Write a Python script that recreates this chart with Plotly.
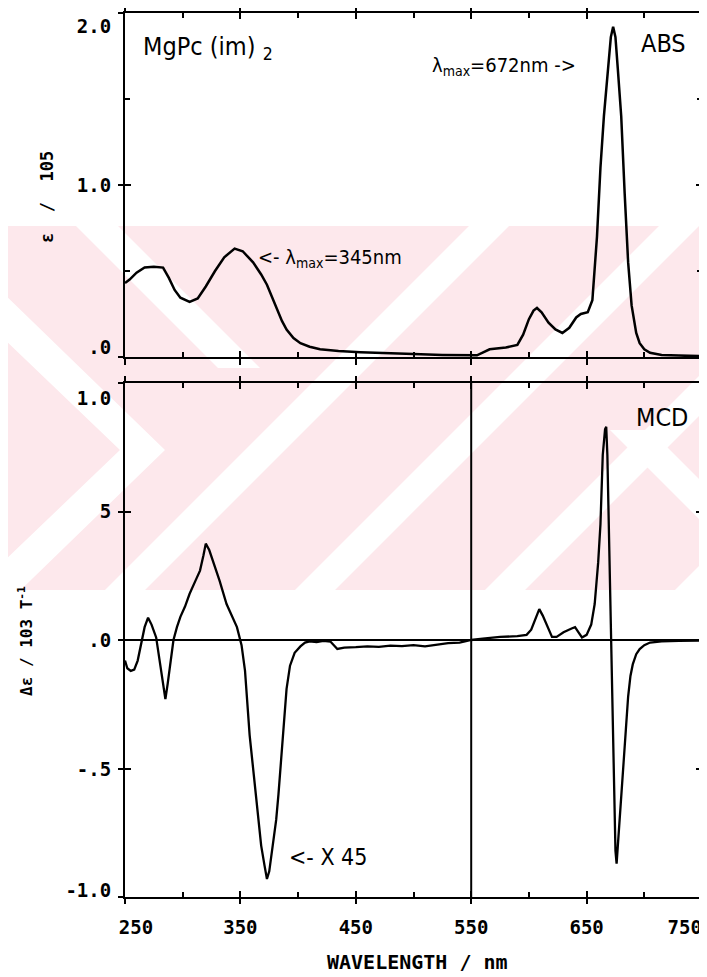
import plotly.graph_objects as go

# ---------------- data ----------------
abs_nm = [250, 254, 260, 267, 275, 283, 288, 293, 298, 306, 313, 320, 328, 336, 345, 352, 361, 368,
          373, 378, 382, 386, 390, 396, 402, 410, 419, 435, 454, 475, 500, 525, 545, 555, 566, 580,
          590, 595, 600, 604, 607, 611, 617, 623, 629, 635, 641, 645, 651, 655, 659, 662, 665, 668,
          671, 673, 675, 677, 680, 683, 686, 689, 693, 696, 700, 705, 715, 730, 750]
abs_val = [0.43, 0.45, 0.49, 0.52, 0.525, 0.52, 0.46, 0.39, 0.345, 0.32, 0.34, 0.41, 0.50, 0.58, 0.63,
           0.615, 0.55, 0.48, 0.42, 0.34, 0.27, 0.21, 0.16, 0.11, 0.08, 0.06, 0.045, 0.035, 0.028,
           0.022, 0.017, 0.012, 0.008, 0.01, 0.045, 0.055, 0.07, 0.13, 0.22, 0.27, 0.285, 0.26, 0.20,
           0.16, 0.14, 0.17, 0.23, 0.25, 0.26, 0.33, 0.70, 1.10, 1.40, 1.62, 1.86, 1.92, 1.86, 1.68,
           1.40, 0.95, 0.55, 0.30, 0.14, 0.08, 0.045, 0.025, 0.012, 0.008, 0.005]

mcd_nm = [250, 252, 255, 258, 261, 264, 267, 270, 273, 277, 280, 283, 285, 287, 290, 292, 295, 298,
          302, 306, 311, 315, 318, 320, 323, 327, 332, 338, 343, 347, 351, 354, 358, 362, 365, 368,
          371, 373, 375, 378, 381, 383, 386, 388, 390, 393, 397, 402, 406, 410, 416, 422, 428, 434,
          440, 450, 460, 470, 480, 490, 500, 510, 520, 530, 540, 545, 550, 560, 575, 590, 598, 602,
          606, 609, 612, 616, 620, 624, 630, 637, 640, 643, 646, 650, 654, 657, 660, 662, 664, 666,
          667, 668, 669, 670, 671, 672, 673, 674, 675, 676, 677, 679, 681, 684, 686, 688, 690, 693,
          696, 700, 705, 715, 730, 750]
mcd_val = [-0.08, -0.11, -0.12, -0.115, -0.08, -0.02, 0.05, 0.087, 0.06, 0.01, -0.08, -0.18, -0.23,
           -0.17, -0.06, 0.0, 0.05, 0.09, 0.13, 0.18, 0.23, 0.27, 0.33, 0.375, 0.35, 0.30, 0.23, 0.14,
           0.09, 0.05, -0.02, -0.12, -0.37, -0.55, -0.68, -0.80, -0.88, -0.93, -0.90, -0.80, -0.70,
           -0.60, -0.41, -0.29, -0.19, -0.10, -0.05, -0.025, -0.01, -0.005, -0.008, -0.003, -0.006,
           -0.035, -0.03, -0.028, -0.025, -0.027, -0.022, -0.024, -0.02, -0.025, -0.018, -0.012, -0.01,
           -0.004, 0.0, 0.005, 0.012, 0.015, 0.02, 0.04, 0.09, 0.12, 0.095, 0.05, 0.012, 0.012, 0.03,
           0.045, 0.05, 0.03, 0.01, 0.02, 0.06, 0.14, 0.30, 0.45, 0.72, 0.82, 0.83, 0.72, 0.50, 0.20,
           0.05, -0.10, -0.40, -0.65, -0.82, -0.87, -0.80, -0.68, -0.52, -0.35, -0.22, -0.14, -0.095,
           -0.055, -0.035, -0.02, -0.01, -0.005, -0.003, -0.002]

x_major = [250, 350, 450, 550, 650, 750]
x_labels = ["250", "350", "450", "550", "650", "750"]
x_label_pos = [259.5, 350, 450, 550, 650, 735]

abs_major = [0, 1, 2]
abs_minor = [0.5, 1.5]
abs_labels = [".0", "1.0", "2.0"]
abs_label_pos = [0.058, 1.0, 1.92]

mcd_major = [-1, -0.5, 0, 0.5, 1]
mcd_labels = ["-1.0", "-.5", ".0", "5", "1.0"]
mcd_label_pos = [-0.975, -0.505, 0, 0.5, 0.94]

# ---------------- geometry helpers ----------------
# The page body has an 8px margin, so the figure is drawn at (8, 8) in the window.
OFF = 8
W, H = 707 - OFF, 977 - OFF
def px(x):
    return (x - OFF) / W
def py(y):
    return 1 - (y - OFF) / H

XD = [px(125), px(702)]
YD_TOP = [py(357), py(13)]
YD_BOT = [py(897), py(383)]

TICKFONT = dict(family="DejaVu Sans Mono", size=19, color="black", weight="bold")
LBLFONT = "DejaVu Sans Condensed, Liberation Sans Narrow, DejaVu Sans"

fig = go.Figure()

# main curves
fig.add_trace(go.Scatter(x=abs_nm, y=abs_val, xaxis="x2", yaxis="y2", mode="lines",
                         line=dict(color="black", width=2.5), showlegend=False, hoverinfo="skip"))
fig.add_trace(go.Scatter(x=mcd_nm, y=mcd_val, xaxis="x", yaxis="y", mode="lines",
                         line=dict(color="black", width=2.3), showlegend=False, hoverinfo="skip"))

# dummy traces so overlay tick axes render
for xa, ya in [("x3", "y"), ("x5", "y"), ("x", "y3"), ("x", "y5"),
               ("x4", "y2"), ("x2", "y4"), ("x2", "y6")]:
    fig.add_trace(go.Scatter(x=[None], y=[None], xaxis=xa, yaxis=ya, mode="lines",
                             showlegend=False, hoverinfo="skip"))

common = dict(showgrid=False, zeroline=False, linecolor="black", linewidth=2,
              tickcolor="black", tickwidth=2, fixedrange=True)
MINOR_X = dict(ticks="inside", tick0=250, dtick=50, ticklen=5, tickwidth=2, tickcolor="black")

# ---- bottom panel (MCD) axes ----
xaxis = dict(domain=XD, anchor="y", range=[250, 750], tickmode="array", tickvals=x_label_pos,
             ticktext=x_labels, ticks="", showline=True, mirror=True, tickfont=TICKFONT,
             ticklabelstandoff=12, **common)
xaxis3 = dict(overlaying="x", anchor="y", range=[250, 750], tickmode="array", tickvals=x_major,
              ticks="outside", ticklen=6, showticklabels=False, showline=False, mirror="ticks", **common)
xaxis5 = dict(overlaying="x", anchor="y", range=[250, 750], tickmode="array", tickvals=x_major,
              ticks="inside", ticklen=6, showticklabels=False, showline=False, mirror="ticks",
              minor=MINOR_X, **common)
yaxis = dict(domain=YD_BOT, anchor="x", range=[-1, 1], tickmode="array", tickvals=mcd_label_pos,
             ticktext=mcd_labels, ticks="", showline=True, mirror=True, tickfont=TICKFONT,
             ticklabelstandoff=8, showgrid=False, linecolor="black", linewidth=2,
             tickcolor="black", tickwidth=2, fixedrange=True,
             zeroline=True, zerolinecolor="black", zerolinewidth=2)
yaxis3 = dict(overlaying="y", anchor="x", range=[-1, 1], tickmode="array", tickvals=mcd_major,
              ticks="outside", ticklen=6, showticklabels=False, showline=False, mirror="ticks", **common)
yaxis5 = dict(overlaying="y", anchor="x", range=[-1, 1], tickmode="array", tickvals=mcd_major,
              ticks="inside", ticklen=6, showticklabels=False, showline=False, mirror="ticks", **common)

# ---- top panel (ABS) axes ----
xaxis2 = dict(domain=XD, anchor="y2", range=[250, 750], tickmode="array", tickvals=x_major,
              ticks="outside", ticklen=6, showticklabels=False, showline=True, mirror="ticks", **common)
xaxis4 = dict(overlaying="x2", anchor="y2", range=[250, 750], tickmode="array", tickvals=x_major,
              ticks="inside", ticklen=6, showticklabels=False, showline=False, mirror="ticks",
              minor=MINOR_X, **common)
yaxis2 = dict(domain=YD_TOP, anchor="x2", range=[0, 2], tickmode="array", tickvals=abs_label_pos,
              ticktext=abs_labels, ticks="", showline=True, mirror=True, tickfont=TICKFONT,
              ticklabelstandoff=8, **common)
yaxis4 = dict(overlaying="y2", anchor="x2", range=[0, 2], tickmode="array", tickvals=abs_major,
              ticks="outside", ticklen=6, showticklabels=False, showline=False, mirror="ticks", **common)
yaxis6 = dict(overlaying="y2", anchor="x2", range=[0, 2], tickmode="array", tickvals=abs_major,
              ticks="inside", ticklen=6, showticklabels=False, showline=False, mirror="ticks",
              minor=dict(ticks="inside", tickmode="array", tickvals=abs_minor, ticklen=5, tickwidth=2,
                         tickcolor="black"),
              **common)

# ---------------- watermark (background decoration) ----------------
PINK = "#fde8ec"
shapes = []
def poly(pts, color):
    d = "M " + " L ".join(f"{px(x):.4f},{py(y):.4f}" for x, y in pts) + " Z"
    shapes.append(dict(type="path", path=d, xref="paper", yref="paper", fillcolor=color,
                       line=dict(width=0), layer="below"))

poly([(0, 226), (710, 226), (710, 590), (0, 590)], PINK)
# "/" stripes
for x0 in [95, 285, 475, 665]:
    poly([(x0, 600), (x0 + 40, 600), (x0 + 40 + 380, 220), (x0 + 380, 220)], "white")
# upper-left "\" stripe
poly([(70, 220), (112, 220), (260, 368), (218, 368)], "white")
# left chevron
poly([(0, 290), (0, 335), (120, 450), (0, 565), (0, 610), (165, 450)], "white")
# right "\" stripe
poly([(610, 430), (650, 430), (810, 590), (770, 590)], "white")
# clean outside the band
poly([(0, 0), (710, 0), (710, 226), (0, 226)], "white")
poly([(0, 590), (710, 590), (710, 980), (0, 980)], "white")

# vertical reference line at 550 nm in MCD panel
shapes.append(dict(type="line", xref="x", yref="y", x0=550, x1=550, y0=-1, y1=1,
                   line=dict(color="black", width=2), layer="above"))

# ---------------- annotations ----------------
def ann(text, x, y, size, xanchor="left", yanchor="middle", family=LBLFONT, angle=0, weight="normal"):
    return dict(text=text, x=px(x), y=py(y), xref="paper", yref="paper", showarrow=False,
                xanchor=xanchor, yanchor=yanchor, textangle=angle,
                font=dict(family=family, size=size, color="black", weight=weight))

MONO = "DejaVu Sans Mono"
annotations = [
    ann("MgPc (im) <sub>2</sub>", 141, 48, 25),
    ann("ABS", 663, 44, 25, xanchor="center"),
    ann("λ<sub>max</sub>=672nm ->", 430, 66, 20),
    ann("<- λ<sub>max</sub>=345nm", 256, 258, 20),
    ann("MCD", 662, 417, 25, xanchor="center"),
    ann("<- X 45", 287, 857, 23),
    ann("WAVELENGTH / nm", 417, 962, 20, xanchor="center", family=MONO, weight="bold"),
    ann("ε  /  105", 47, 197, 17, xanchor="center", family=MONO, angle=-90, weight="bold"),
    ann("Δε / 103 T<sup>-1</sup>", 25, 641, 16, xanchor="center", family=MONO, angle=-90, weight="bold"),
]

fig.update_layout(
    width=W, height=H, autosize=False,
    margin=dict(l=0, r=0, t=0, b=0, autoexpand=False),
    paper_bgcolor="white", plot_bgcolor="rgba(0,0,0,0)",
    xaxis=xaxis, xaxis2=xaxis2, xaxis3=xaxis3, xaxis4=xaxis4, xaxis5=xaxis5,
    yaxis=yaxis, yaxis2=yaxis2, yaxis3=yaxis3, yaxis4=yaxis4, yaxis5=yaxis5, yaxis6=yaxis6,
    shapes=shapes, annotations=annotations, showlegend=False,
)

fig.write_html("out.html")
